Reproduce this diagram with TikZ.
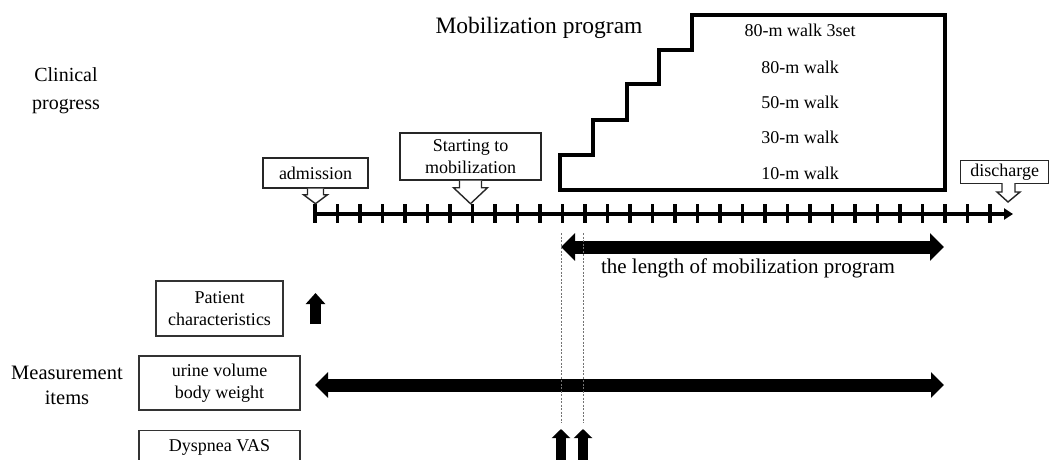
\documentclass[tikz,border=0pt]{standalone}
\usepackage{fontspec}
\setmainfont{Liberation Serif}
\usetikzlibrary{arrows.meta}
\begin{document}
\begin{tikzpicture}[x=1pt,y=-1pt,
  lbl/.style={font=\fontsize{20}{26}\selectfont, align=center, inner sep=0pt},
  smalltxt/.style={font=\fontsize{18}{22}\selectfont, align=center, inner sep=0pt},
  walktxt/.style={font=\fontsize{18}{22}\selectfont, inner sep=0pt},
  callbox/.style={draw=black!85, line width=1.4pt, inner sep=0pt, font=\fontsize{18}{22}\selectfont, align=center},
  infobox/.style={draw=black!80, line width=1.4pt, inner sep=0pt, font=\fontsize{18}{22}\selectfont, align=center},
  pointer/.style={draw=black!85, line width=1.4pt, fill=white, line join=miter},
  thickarrow/.style={line width=13pt, draw=black},
  bigtip/.tip={Triangle[length=14pt,width=27pt]},
  medtip/.tip={Triangle[length=13pt,width=25pt]},
  uptip/.tip={Triangle[length=11pt,width=19pt]},
  smalluptip/.tip={Triangle[length=9pt,width=18pt]},
  guide/.style={draw=black!55, line width=0.8pt, dash pattern=on 2pt off 1.5pt}
]
\useasboundingbox (0,0) rectangle (1049,459);
\clip (0,0) rectangle (1049,459);

% left labels
\node[lbl, font=\fontsize{20}{28}\selectfont] (clin) at (66,91) {Clinical\\progress};
\node[lbl, font=\fontsize{20.5}{25}\selectfont] (meas) at (67,385) {Measurement\\items};

% title
\node[lbl, font=\fontsize{23.5}{28}\selectfont] (mobtitle) at (539,28) {Mobilization program};

% staircase program box
\draw[line width=3.2pt, line join=miter] (560,190) -- (560,155) -- (593,155) -- (593,120) -- (627,120)
  -- (627,84) -- (659,84) -- (659,50) -- (692,50) -- (692,15) -- (945,15) -- (945,190) -- cycle;
\node[walktxt] (w5) at (800,30) {80-m walk 3set};
\node[walktxt] (w4) at (800,67) {80-m walk};
\node[walktxt] (w3) at (800,102) {50-m walk};
\node[walktxt] (w2) at (800,137) {30-m walk};
\node[walktxt] (w1) at (800,173) {10-m walk};

% timeline
\coordinate (tl0) at (315,214);
\coordinate (tlend) at (1013,214);
\draw[line width=3.5pt, -{Triangle[length=9pt,width=11pt]}] (tl0) -- (tlend);
\foreach \i in {0,...,30}
  \draw[line width=3.5pt] (315+22.5*\i,204) -- ++(0,19);

% callouts
\node[callbox, minimum width=105pt, minimum height=30pt] (adm) at (315.5,173) {admission};
\filldraw[pointer] ([xshift=-8pt]adm.south) -- ++(0,6) -- ++(-4,0) -- ++(12,9) -- ++(12,-9) -- ++(-4,0) -- ++(0,-6);

\node[callbox, minimum width=141pt, minimum height=47pt] (start) at (470.5,156.5) {Starting to\\mobilization};
\filldraw[pointer] ([xshift=-11pt]start.south) -- ++(0,7) -- ++(-6,0) -- ++(17,16) -- ++(17,-16) -- ++(-6,0) -- ++(0,-7);

\node[callbox, minimum width=88pt, minimum height=23pt, anchor=north west] (dis) at (960,160) {discharge};
\filldraw[pointer] (1002,183) -- ++(0,9) -- ++(-5,0) -- ++(11,10) -- ++(12,-10) -- ++(-5,0) -- ++(0,-9);

% length of mobilization program
\coordinate (lenL) at (561,247);
\coordinate (lenR) at (944,247);
\draw[thickarrow, {bigtip}-{bigtip}] (lenL) -- (lenR);
\node[lbl, font=\fontsize{21}{24}\selectfont] (lentxt) at (748,268) {the length of mobilization program};

% measurement boxes
\node[infobox, minimum width=127pt, minimum height=55pt] (pat) at (219.5,308.5) {Patient\\characteristics};
\node[infobox, minimum width=161pt, minimum height=54pt] (urine) at (219.5,383) {urine volume\\body weight};
\node[infobox, minimum width=161pt, minimum height=60pt, anchor=north] (dysp) at (219.5,430) {};
\node[smalltxt] (dysptxt) at (219.5,447) {Dyspnea VAS};

% patient arrow
\coordinate (patA) at (315.5,324);
\coordinate (patB) at (315.5,293);
\draw[line width=10.5pt, -{uptip}] (patA) -- (patB);

% urine arrow
\coordinate (urL) at (315,385);
\coordinate (urR) at (944,385);
\draw[thickarrow, {medtip}-{medtip}] (urL) -- (urR);

% dotted guides
\coordinate (g1t) at (561,233);
\coordinate (g1b) at (561,423);
\coordinate (g2t) at (583,233);
\coordinate (g2b) at (583,423);
\draw[guide] (g1t) -- (g1b);
\draw[guide] (g2t) -- (g2b);

% bottom up arrows
\coordinate (u1b) at (561,470);
\coordinate (u1t) at (561,429);
\coordinate (u2b) at (583,470);
\coordinate (u2t) at (583,429);
\draw[line width=10pt, -{smalluptip}] (u1b) -- (u1t);
\draw[line width=10pt, -{smalluptip}] (u2b) -- (u2t);
\end{tikzpicture}
\end{document}
